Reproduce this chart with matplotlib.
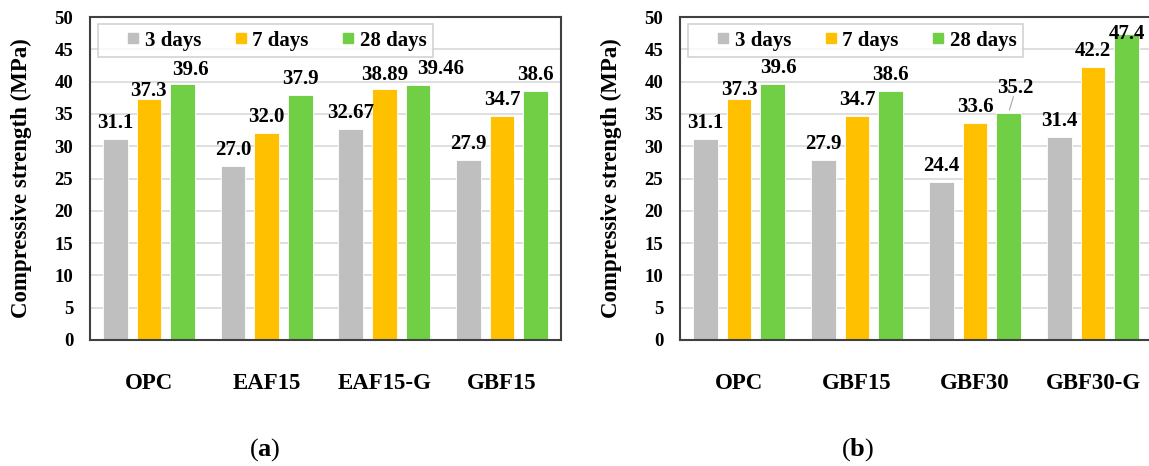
import numpy as np
import matplotlib
matplotlib.use("Agg")
import matplotlib.pyplot as plt
from matplotlib.lines import Line2D

plt.rcParams['font.family'] = ['Liberation Serif', 'DejaVu Serif']
plt.rcParams['font.weight'] = 'bold'
plt.rcParams['mathtext.fontset'] = 'custom'
plt.rcParams['mathtext.rm'] = 'Liberation Serif'
plt.rcParams['mathtext.bf'] = 'Liberation Serif:bold'

# Compressive strength (MPa) at 3, 7 and 28 days
ages = ['3 days', '7 days', '28 days']
colors = ['#bfbfbf', '#ffc000', '#70cf45']

mixes_a = ['OPC', 'EAF15', 'EAF15-G', 'GBF15']
d3_a = [31.1, 27.0, 32.67, 27.9]
d7_a = [37.3, 32.0, 38.89, 34.7]
d28_a = [39.6, 37.9, 39.46, 38.6]
text_a = [['31.1', '27.0', '32.67', '27.9'],
          ['37.3', '32.0', '38.89', '34.7'],
          ['39.6', '37.9', '39.46', '38.6']]

mixes_b = ['OPC', 'GBF15', 'GBF30', 'GBF30-G']
d3_b = [31.1, 27.9, 24.4, 31.4]
d7_b = [37.3, 34.7, 33.6, 42.2]
d28_b = [39.6, 38.6, 35.2, 47.4]
text_b = [['31.1', '27.9', '24.4', '31.4'],
          ['37.3', '34.7', '33.6', '42.2'],
          ['39.6', '38.6', '35.2', '47.4']]

W, H = 1149, 466
fig = plt.figure(figsize=(W / 100, H / 100), dpi=100)

# label nudges in pixels: (dx, gap above bar)
nudge_a = {(0, 1): (0, 3), (0, 2): (8, 9), (2, 1): (0, 9), (2, 2): (23, 11)}
nudge_b = {(0, 1): (0, 4), (0, 2): (6, 11), (2, 2): (7, 20), (3, 2): (0, -5)}
leader_b = [(2, 2)]


def panel(ax, mixes, series, texts, nudge, leaders=()):
    x = np.arange(len(mixes))
    bw = 0.21
    offs = [-0.285, 0, 0.285]
    for s, (vals, col) in enumerate(zip(series, colors)):
        ax.bar(x + offs[s], vals, bw, color=col,
               edgecolor='white', linewidth=0.6, zorder=2)
        for g, v in enumerate(vals):
            dx, gap = nudge.get((g, s), (0, 11))
            ax.annotate(texts[s][g], (x[g] + offs[s], v),
                        xytext=(dx * 0.72, gap * 0.72), textcoords='offset points',
                        ha='center', va='baseline', fontsize=15, fontweight='bold')
            if (g, s) in leaders:
                ax.annotate('', (x[g] + offs[s], v),
                            xytext=(dx * 0.72 - 1, gap * 0.72 - 1),
                            textcoords='offset points',
                            arrowprops=dict(arrowstyle='-', color='#a6a6a6', lw=0.8))
    ax.set_ylim(0, 50)
    ax.set_xlim(-0.5, len(mixes) - 0.5)
    ax.set_yticks(np.arange(0, 51, 5))
    ax.set_xticks(x)
    ax.set_xticklabels(mixes, fontsize=16.5, fontweight='bold')
    ax.tick_params(axis='x', length=0, pad=24)
    ax.tick_params(axis='y', length=0, labelsize=13.5, pad=12)
    ax.yaxis.grid(True, color='#d9d9d9', lw=1.2, zorder=0)
    ax.set_axisbelow(True)
    for sp in ax.spines.values():
        sp.set_color('#404040')
        sp.set_linewidth(1.5)
    ax.set_ylabel('Compressive strength (MPa)', fontsize=16.5, fontweight='bold', labelpad=16)
    handles = [Line2D([], [], ls='none', marker='s', markersize=6.5,
                      markerfacecolor=c, markeredgecolor=c) for c in colors]
    leg = ax.legend(handles, ages, ncol=3, loc='upper left', bbox_to_anchor=(0.008, 0.99),
                    fontsize=15, frameon=True, fancybox=False, edgecolor='#c8c8c8',
                    handlelength=2.8, handletextpad=-0.85,
                    columnspacing=0.5, borderpad=0.3, borderaxespad=0.2)
    leg.get_frame().set_linewidth(1.2)


ax1 = fig.add_axes([90 / W, (H - 340) / H, 471 / W, 323 / H])
panel(ax1, mixes_a, [d3_a, d7_a, d28_a], text_a, nudge_a)

ax2 = fig.add_axes([680 / W, (H - 340) / H, 472 / W, 323 / H])
panel(ax2, mixes_b, [d3_b, d7_b, d28_b], text_b, nudge_b, leader_b)

fig.text(265 / W, 1 - 450 / H, r'($\mathbf{a}$)', ha='center', va='center',
         fontsize=19, fontweight='normal')
fig.text(858 / W, 1 - 450 / H, r'($\mathbf{b}$)', ha='center', va='center',
         fontsize=19, fontweight='normal')

fig.savefig('out.png', dpi=100)
